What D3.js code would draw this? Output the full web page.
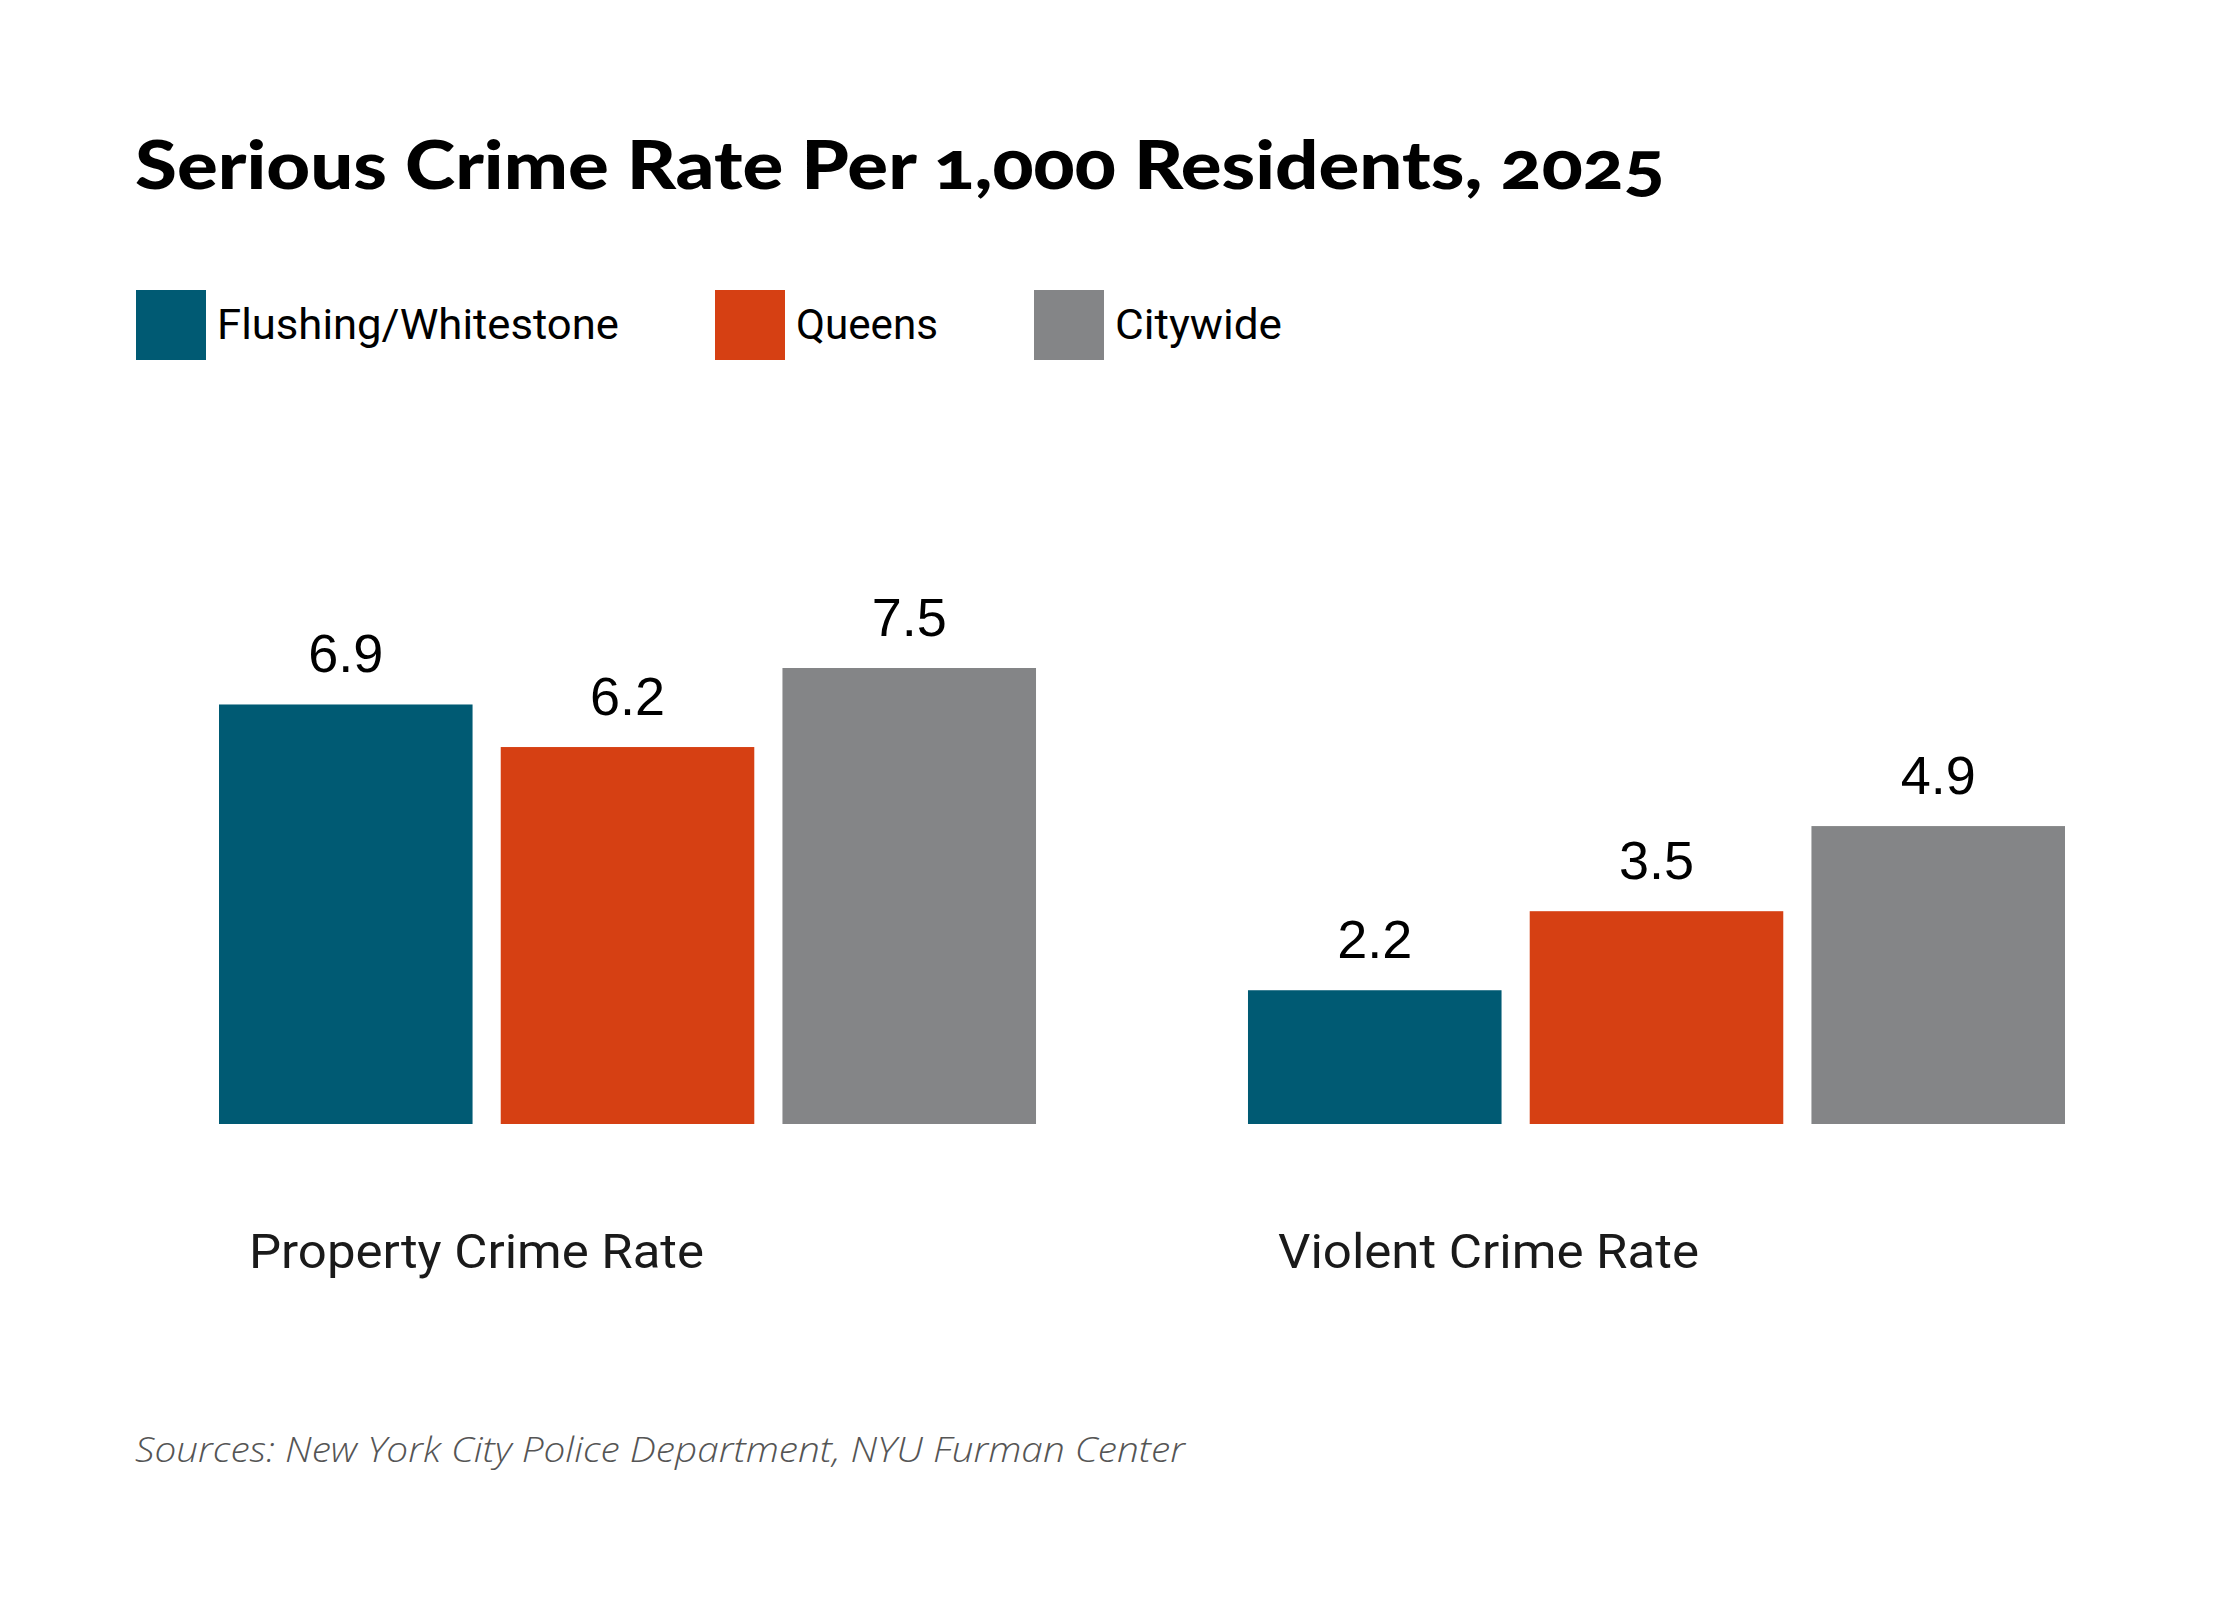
<!DOCTYPE html>
<html>
<head>
<meta charset="utf-8">
<script src="https://cdn.jsdelivr.net/npm/d3@7"></script>
<style>
  html, body { margin: 0; padding: 0; background: #fff; }
  svg { display: block; }
</style>
</head>
<body>
<div id="chart"></div>
<script>
// data
const categories = ["Property Crime Rate", "Violent Crime Rate"];
const seriesNames = ["Flushing/Whitestone", "Queens", "Citywide"];
const seriesColors = ["#005a73", "#d64013", "#848587"];
const flushingValues = [6.9, 2.2];
const queensValues = [6.2, 3.5];
const citywideValues = [7.5, 4.9];
const titleText = "Serious Crime Rate Per 1,000 Residents, 2025";
const sourceText = "Sources: New York City Police Department, NYU Furman Center";

const seriesValues = [flushingValues, queensValues, citywideValues];

function drawChart() {
    const width = 2240;
    const height = 1600;

    const svg = d3.select("#chart")
        .append("svg")
        .attr("width", width)
        .attr("height", height);

    svg.append("rect")
        .attr("width", width)
        .attr("height", height)
        .attr("fill", "#fff");

    // title
    svg.append("text")
        .attr("x", 135)
        .attr("y", 189)
        .attr("textLength", 1530)
        .attr("lengthAdjust", "spacingAndGlyphs")
        .style("font-family", "Lato, Roboto, sans-serif")
        .style("font-weight", 900)
        .style("font-size", "66px")
        .style("font-variant-numeric", "oldstyle-nums")
        .style("fill", "#000")
        .text(titleText);

    // legend, items flow left to right
    const legend = svg.append("g");
    const legendWidths = [402, 142, 167];
    let lx = 136;
    seriesNames.forEach(function (name, i) {
        legend.append("rect")
            .attr("x", lx)
            .attr("y", 290)
            .attr("width", 70)
            .attr("height", 70)
            .attr("fill", seriesColors[i]);
        legend.append("text")
            .attr("x", lx + 81)
            .attr("y", 339)
            .attr("textLength", legendWidths[i])
            .attr("lengthAdjust", "spacingAndGlyphs")
            .style("font-family", "Roboto, 'Noto Sans', sans-serif")
            .style("font-size", "42px")
            .style("fill", "#000")
            .text(name);
        lx += 81 + legendWidths[i] + 96;
    });

    // scales
    const x0 = d3.scaleBand()
        .domain(categories)
        .range([219, 2065])
        .paddingInner(0.206)
        .paddingOuter(0);

    const x1 = d3.scaleBand()
        .domain(seriesNames)
        .range([0, x0.bandwidth()])
        .paddingInner(0.1);

    const y = d3.scaleLinear()
        .domain([0, 7.5])
        .range([1124, 668]);

    const color = d3.scaleOrdinal()
        .domain(seriesNames)
        .range(seriesColors);

    const rows = categories.map(function (c, ci) {
        return {
            category: c,
            bars: seriesNames.map(function (s, si) {
                return { series: s, value: seriesValues[si][ci] };
            })
        };
    });

    const groups = svg.append("g")
        .selectAll("g")
        .data(rows)
        .enter()
        .append("g")
        .attr("transform", d => `translate(${x0(d.category)},0)`);

    groups.selectAll("rect")
        .data(d => d.bars)
        .enter()
        .append("rect")
        .attr("x", d => x1(d.series))
        .attr("y", d => y(d.value))
        .attr("width", x1.bandwidth())
        .attr("height", d => y(0) - y(d.value))
        .attr("fill", d => color(d.series));

    groups.selectAll("text.value")
        .data(d => d.bars)
        .enter()
        .append("text")
        .attr("class", "value")
        .attr("x", d => x1(d.series) + x1.bandwidth() / 2)
        .attr("y", d => y(d.value) - 32)
        .attr("text-anchor", "middle")
        .style("font-family", "'Liberation Sans', Arial, sans-serif")
        .style("font-size", "54px")
        .style("fill", "#000")
        .text(d => d3.format(".1f")(d.value));

    // category labels under the groups
    const catWidths = [455, 421];
    groups.append("text")
        .attr("x", 30)
        .attr("y", 1268)
        .attr("textLength", (d, i) => catWidths[i])
        .attr("lengthAdjust", "spacingAndGlyphs")
        .style("font-family", "Roboto, 'Noto Sans', sans-serif")
        .style("font-size", "48px")
        .style("fill", "#1a1a1a")
        .text(d => d.category);

    // source note
    svg.append("text")
        .attr("x", 135)
        .attr("y", 1462)
        .attr("textLength", 1050)
        .attr("lengthAdjust", "spacingAndGlyphs")
        .style("font-family", "'Open Sans', 'Noto Sans', sans-serif")
        .style("font-style", "italic")
        .style("font-weight", 300)
        .style("font-size", "34px")
        .style("fill", "#555")
        .text(sourceText);
}

drawChart();
</script>
</body>
</html>
